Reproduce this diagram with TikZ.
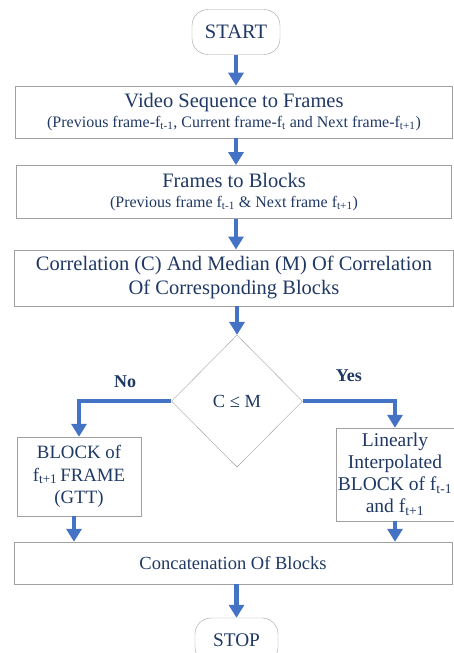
\documentclass[tikz,border=0pt]{standalone}
\usepackage{fontspec}
\setmainfont{Liberation Serif}
\usepackage{xcolor}
\usetikzlibrary{shapes.geometric, arrows.meta, positioning}

\definecolor{flowblue}{HTML}{4472C4}
\definecolor{textnavy}{HTML}{1F3864}
\definecolor{edgegray}{HTML}{A0A0A0}

\begin{document}
\begin{tikzpicture}[x=1pt, y=1pt,
    every node/.style={text=textnavy, font=\fontsize{19}{22}\selectfont},
    terminal/.style={draw=edgegray, rounded corners=16pt, minimum width=88pt, minimum height=45pt, inner sep=0pt},
    stepbox/.style={draw=edgegray, minimum height=52pt, inner sep=1pt, align=center},
    decision/.style={draw=edgegray, diamond, minimum width=131pt, minimum height=132pt, inner sep=0pt},
    flow/.style={draw=flowblue, line width=4.5pt, -{Triangle[width=15pt, length=13pt]}}]
        \useasboundingbox (0,0) rectangle (453,-653);
        % Start
        \node[terminal, font=\fontsize{20.5}{24}\selectfont] (start) at (236,-32) {START};
        % Video to frames
        \node[stepbox, minimum width=437pt, below=31pt of start, xshift=-2pt] (vidseq) {{\fontsize{20.5}{22}\selectfont Video Sequence to Frames}\\[-2pt]
            {\fontsize{16}{18}\selectfont(Previous frame-f\textsubscript{t-1}, Current frame-f\textsubscript{t} and Next frame-f\textsubscript{t+1})}};
        % Frames to blocks
        \node[stepbox, minimum width=435pt, minimum height=53pt, below=27pt of vidseq] (blocks) {{\fontsize{20.5}{22}\selectfont Frames to Blocks}\\[-2pt]
            {\fontsize{16}{18}\selectfont(Previous frame f\textsubscript{t-1} \& Next frame f\textsubscript{t+1})}};
        % Correlation
        \node[stepbox, minimum width=439pt, minimum height=56pt, below=31pt of blocks, font=\fontsize{20.5}{24}\selectfont] (corr) {Correlation (C) And Median (M) Of Correlation\\Of Corresponding Blocks};
        % Decision
        \node[decision, below=29pt of corr, xshift=3pt, font=\fontsize{18.5}{22}\selectfont] (check) {C ≤ M};
        % No branch
        \node[stepbox, minimum width=124pt, minimum height=79pt, align=center, font=\fontsize{18.8}{22.5}\selectfont] (nextblk) at (79,-476.5) {BLOCK of\\f\textsubscript{t+1}\,FRAME\\(GTT)};
        % Yes branch
        \node[stepbox, minimum width=118pt, minimum height=93pt, align=center, font=\fontsize{19.5}{22}\selectfont] (interp) at (395,-474.5) {Linearly\\Interpolated\\BLOCK of f\textsubscript{t-1}\\and f\textsubscript{t+1}};
        % Concatenation
        \node[stepbox, minimum width=438pt, minimum height=42pt, font=\fontsize{18.5}{22}\selectfont] (concat) at (233,-563) {Concatenation Of Blocks};
        % Stop
        \node[terminal, minimum width=83pt, font=\fontsize{19.3}{22}\selectfont] (stop) at (236.5,-640.5) {STOP};
        % Arrows
        \draw[flow] (start) -- (start |- vidseq.north);
        \draw[flow] (start |- vidseq.south) -- (start |- blocks.north);
        \draw[flow] (start |- blocks.south) -- (start |- corr.north);
        \draw[flow] (check |- corr.south) -- (check);
        \draw[flow] (check.west) -| node[pos=0.25, above=8pt, font=\bfseries\fontsize{18}{20}\selectfont] {No} (nextblk.north);
        \draw[flow] (check.east) -| node[pos=0.25, above=14pt, font=\bfseries\fontsize{18}{20}\selectfont] {Yes} (interp.north);
        \draw[flow] ([xshift=-5pt]nextblk.south) -- ([xshift=-5pt]nextblk.south |- concat.north);
        \draw[flow] (interp.south) -- (interp.south |- concat.north);
        \draw[flow] (stop |- concat.south) -- (stop);
    \end{tikzpicture}
\end{document}
